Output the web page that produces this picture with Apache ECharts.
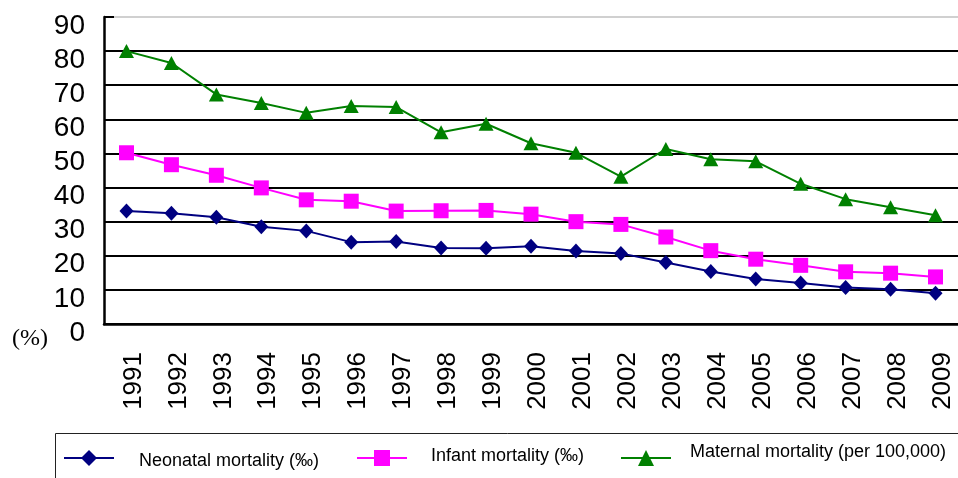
<!DOCTYPE html>
<html>
<head>
<meta charset="utf-8">
<script src="https://cdn.jsdelivr.net/npm/echarts@6/dist/echarts.min.js"></script>
<style>
  html, body { margin: 0; padding: 0; background: #fff; }
  #main { width: 958px; height: 478px; }
</style>
</head>
<body>
<div id="main"></div>
<script>
var years = ['1991', '1992', '1993', '1994', '1995', '1996', '1997', '1998', '1999', '2000',
             '2001', '2002', '2003', '2004', '2005', '2006', '2007', '2008', '2009'];
var neonatal = [33.1, 32.5, 31.3, 28.5, 27.3, 24.0, 24.2, 22.3, 22.2, 22.8, 21.4, 20.7, 18.0, 15.4, 13.2, 12.0, 10.7, 10.2, 9.0];
var infant = [50.2, 46.7, 43.6, 39.9, 36.4, 36.0, 33.1, 33.2, 33.3, 32.2, 30.0, 29.2, 25.5, 21.5, 19.0, 17.2, 15.3, 14.9, 13.8];
var maternal = [80.0, 76.5, 67.3, 64.8, 61.9, 63.9, 63.6, 56.2, 58.7, 53.0, 50.2, 43.2, 51.3, 48.3, 47.7, 41.1, 36.6, 34.2, 31.9];
var yTicks = { min: 0, max: 90, step: 10 };

var font = "'Liberation Sans', Arial, sans-serif";

var myChart = echarts.init(document.getElementById('main'));

// one legend per series so each can sit where the original put it
function legendAt(name, left, top, pad) {
    return {
        data: [name],
        left: left,
        top: top,
        padding: 0,
        itemWidth: 50,
        itemHeight: 20,
        formatter: '{t|{name}}',
        textStyle: {
            color: '#000',
            rich: {
                t: { fontFamily: font, fontSize: 18, lineHeight: 20, color: '#000', padding: pad }
            }
        }
    };
}

var option = {
    backgroundColor: '#fff',
    animation: false,
    grid: { left: 104, right: 0, top: 17, bottom: 154 },
    legend: [
        legendAt('Neonatal mortality (‰)', 63, 446, [6, 0, 0, 20]),
        legendAt('Infant mortality (‰)', 356, 447, [0, 0, 4, 19]),
        legendAt('Maternal mortality (per 100,000)', 620, 443, [0, 0, 12, 14])
    ],
    graphic: [
        {
            type: 'text', left: 12, top: 327,
            style: { text: '(%)', font: '24px "Liberation Serif", serif', fill: '#000' }
        },
        {
            type: 'rect', shape: { x: 55.5, y: 433.5, width: 920, height: 80 },
            style: { fill: 'none', stroke: '#222', lineWidth: 1 }
        }
    ],
    xAxis: {
        type: 'category',
        data: years,
        boundaryGap: true,
        axisLine: { lineStyle: { color: '#000', width: 2.5 } },
        axisTick: { inside: true, length: 10, lineStyle: { color: '#000', width: 2 } },
        axisLabel: {
            rotate: 90,
            margin: 28,
            fontFamily: font,
            fontSize: 26,
            color: '#000',
            verticalAlign: 'top',
            lineHeight: 14
        },
        splitLine: { show: false }
    },
    yAxis: {
        type: 'value',
        min: yTicks.min,
        max: yTicks.max,
        interval: yTicks.step,
        axisLine: { show: true, lineStyle: { color: '#000', width: 2.5 } },
        axisTick: { show: true, inside: true, length: 10, lineStyle: { color: '#000', width: 2 } },
        axisLabel: {
            margin: 19,
            fontFamily: font,
            fontSize: 28,
            color: '#000',
            verticalAlign: 'top',
            lineHeight: 18
        },
        splitLine: {
            lineStyle: {
                color: ['#000', '#000', '#000', '#000', '#000', '#000', '#000', '#000', '#000', '#d0d0d0'],
                width: 2
            }
        }
    },
    series: [
        {
            name: 'Neonatal mortality (‰)',
            type: 'line',
            data: neonatal,
            symbol: 'diamond',
            symbolSize: [14, 15],
            lineStyle: { color: '#000080', width: 2 },
            itemStyle: { color: '#000080' }
        },
        {
            name: 'Infant mortality (‰)',
            type: 'line',
            data: infant,
            symbol: 'rect',
            symbolSize: 15,
            lineStyle: { color: '#ff00ff', width: 2 },
            itemStyle: { color: '#ff00ff' }
        },
        {
            name: 'Maternal mortality (per 100,000)',
            type: 'line',
            data: maternal,
            symbol: 'triangle',
            symbolSize: [15, 14],
            lineStyle: { color: '#008000', width: 2 },
            itemStyle: { color: '#008000' }
        }
    ]
};
myChart.setOption(option);
</script>
</body>
</html>
